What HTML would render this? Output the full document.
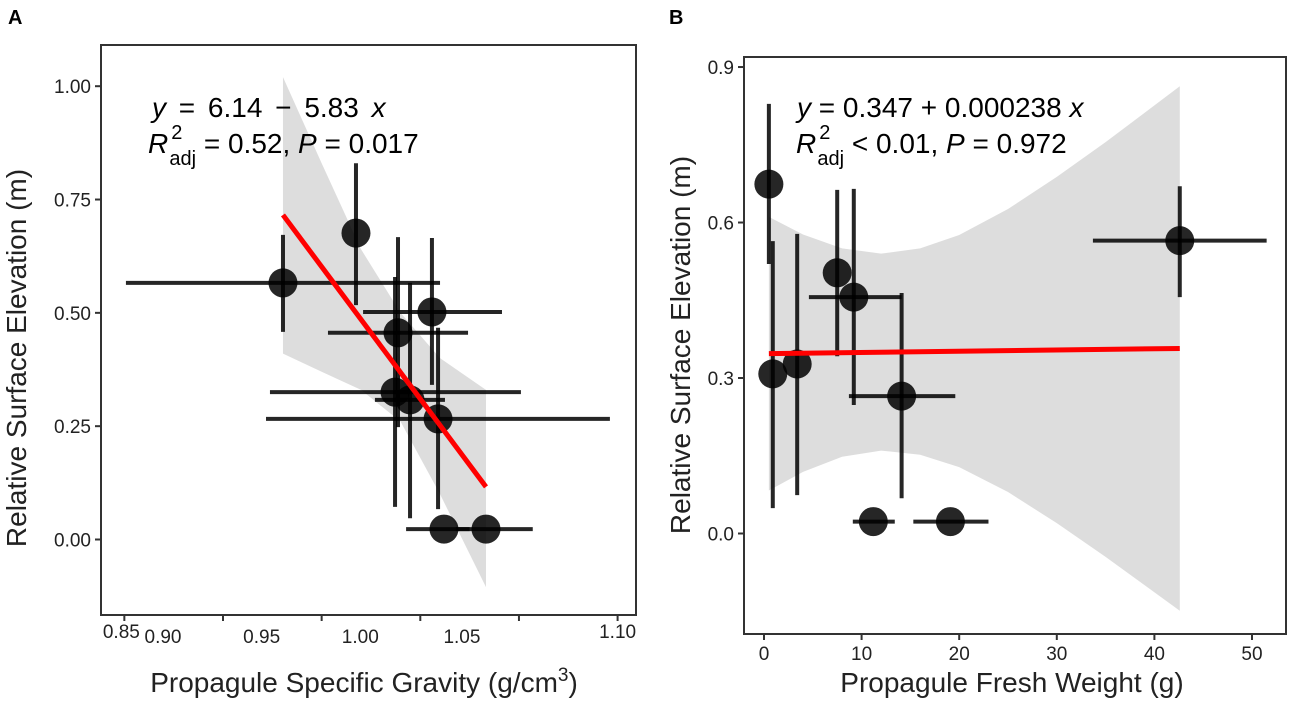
<!DOCTYPE html>
<html><head><meta charset="utf-8"><style>
body{margin:0;background:#fff;}
svg{display:block;font-family:"Liberation Sans",Arial,sans-serif;}
</style></head><body>
<svg id="fig" width="1299" height="708" viewBox="0 0 1299 708">
<text x="8" y="24" font-size="20" font-weight="bold">A</text>
<text x="669" y="24" font-size="20" font-weight="bold">B</text>
<g id="pa"></g>
<g id="pb"></g>
<text x="152" y="117" font-size="28" word-spacing="5"><tspan font-style="italic">y</tspan> = 6.14 − 5.83 <tspan font-style="italic">x</tspan></text>
<text x="148" y="153" font-size="28"><tspan font-style="italic">R</tspan><tspan dy="-14" font-size="20" dx="3">2</tspan><tspan dy="26" dx="-13" font-size="20">adj</tspan><tspan dy="-12"> = 0.52, </tspan><tspan font-style="italic">P</tspan> = 0.017</text>
<text x="797" y="117" font-size="28"><tspan font-style="italic">y</tspan> = 0.347 + 0.000238 <tspan font-style="italic">x</tspan></text>
<text x="796" y="153" font-size="28"><tspan font-style="italic">R</tspan><tspan dy="-14" font-size="20" dx="3">2</tspan><tspan dy="26" dx="-13" font-size="20">adj</tspan><tspan dy="-12"> &lt; 0.01, </tspan><tspan font-style="italic">P</tspan> = 0.972</text>
<text transform="translate(26,358) rotate(-90)" font-size="28" text-anchor="middle" fill="#222">Relative Surface Elevation (m)</text>
<text transform="translate(690,345) rotate(-90)" font-size="28" text-anchor="middle" fill="#222">Relative Surface Elevation (m)</text>
<text x="364" y="692" font-size="28" text-anchor="middle" fill="#222">Propagule Specific Gravity (g/cm<tspan dy="-11" font-size="19">3</tspan><tspan dy="11">)</tspan></text>
<text x="1012" y="692" font-size="28" text-anchor="middle" fill="#222">Propagule Fresh Weight (g)</text>
</svg>
<script>
// ---------- Panel A data ----------
const aX = [0.9304, 0.9674, 1.0059, 0.9887, 0.9872, 0.9948, 1.009, 1.012, 1.0333];
const aY = [0.566, 0.676, 0.502, 0.456, 0.325, 0.308, 0.266, 0.023, 0.023];
const aXlo = [0.8508, 0.9674, 0.971, 0.9532, 0.9238, 0.977, 0.9218, 0.9928, 1.018];
const aXhi = [1.010, 0.9674, 1.0414, 1.0242, 1.051, 1.0125, 1.0961, 1.025, 1.057];
const aYlo = [0.458, 0.517, 0.341, 0.248, 0.072, 0.047, 0.067, 0.023, 0.023];
const aYhi = [0.672, 0.830, 0.665, 0.667, 0.579, 0.566, 0.467, 0.023, 0.023];
const aFitX = [0.9304, 1.0333];
const aFitY = [0.716, 0.116];
const aBandX = [0.9304, 0.95, 0.97, 0.99, 1.01, 1.0333];
const aBandHi = [1.02, 0.83, 0.64, 0.50, 0.40, 0.33];
const aBandLo = [0.41, 0.37, 0.33, 0.26, 0.10, -0.105];
const aXTicks = [0.85, 0.90, 0.95, 1.00, 1.05, 1.10];
const aXTickLabels = ["0.85", "0.90", "0.95", "1.00", "1.05", "1.10"];
const aYTicks = [0, 0.25, 0.5, 0.75, 1.0];
const aYTickLabels = ["0.00", "0.25", "0.50", "0.75", "1.00"];
// ---------- Panel B data ----------
const bX = [0.5, 0.9, 3.4, 7.5, 9.2, 14.1, 11.2, 19.1, 42.6];
const bY = [0.674, 0.308, 0.327, 0.503, 0.456, 0.265, 0.023, 0.023, 0.565];
const bXlo = [0.5, 0.9, 3.4, 7.5, 4.6, 8.7, 9.1, 15.3, 33.7];
const bXhi = [0.5, 0.9, 3.4, 7.5, 14.1, 19.6, 13.4, 23.0, 51.5];
const bYlo = [0.52, 0.049, 0.074, 0.342, 0.248, 0.068, 0.023, 0.023, 0.456];
const bYhi = [0.829, 0.564, 0.578, 0.663, 0.665, 0.464, 0.023, 0.023, 0.670];
const bFitX = [0.5, 42.6];
const bFitY = [0.347, 0.357];
const bBandX = [0.5, 4, 8, 12, 16, 20, 25, 30, 35, 42.6];
const bBandHi = [0.611, 0.577, 0.550, 0.540, 0.550, 0.576, 0.626, 0.688, 0.755, 0.863];
const bBandLo = [0.083, 0.119, 0.148, 0.160, 0.152, 0.128, 0.080, 0.020, -0.045, -0.149];
const bXTicks = [0, 10, 20, 30, 40, 50];
const bXTickLabels = ["0", "10", "20", "30", "40", "50"];
const bYTicks = [0, 0.3, 0.6, 0.9];
const bYTickLabels = ["0.0", "0.3", "0.6", "0.9"];

const NS = "http://www.w3.org/2000/svg";
function mk(parent, tag, attrs, text){
  const e = document.createElementNS(NS, tag);
  for (const k in attrs) e.setAttribute(k, attrs[k]);
  if (text !== undefined) e.textContent = text;
  parent.appendChild(e);
  return e;
}

function panel(g, cfg){
  const sx = v => cfg.x0 + (v - cfg.xv0) * cfg.kx;
  const sy = v => cfg.y0 - v * cfg.ky;
  let d = "";
  cfg.bandX.forEach((x,i)=>{ d += (i?"L":"M") + sx(x) + "," + sy(cfg.bandHi[i]); });
  for (let i = cfg.bandX.length-1; i >= 0; i--) d += "L" + sx(cfg.bandX[i]) + "," + sy(cfg.bandLo[i]);
  const band = mk(g, "path", {d: d + "Z", fill: "#d9d9d9", "fill-opacity": "0.9"});
  
  
  cfg.X.forEach((x,i)=>{
    if (cfg.Xhi[i] > cfg.Xlo[i]) {
      const l = mk(g, "line", {x1: sx(cfg.Xlo[i]), x2: sx(cfg.Xhi[i]), y1: sy(cfg.Y[i]), y2: sy(cfg.Y[i]), stroke: "#000", "stroke-width": 4, "stroke-opacity": 0.85});
      
      
    }
    if (cfg.Yhi[i] > cfg.Ylo[i]) {
      const l = mk(g, "line", {x1: sx(x), x2: sx(x), y1: sy(cfg.Ylo[i]), y2: sy(cfg.Yhi[i]), stroke: "#000", "stroke-width": 4, "stroke-opacity": 0.85});
      
      
    }
  });
  cfg.X.forEach((x,i)=>{
    const c = mk(g, "circle", {cx: sx(x), cy: sy(cfg.Y[i]), r: 14.5, fill: "#000", "fill-opacity": 0.85});
    
    
  });
  const f = mk(g, "line", {x1: sx(cfg.fitX[0]), y1: sy(cfg.fitY[0]), x2: sx(cfg.fitX[1]), y2: sy(cfg.fitY[1]), stroke: "#ff0000", "stroke-width": 5});
  
  
  const fr = mk(g, "rect", {x: cfg.L, y: cfg.T, width: cfg.R - cfg.L, height: cfg.B - cfg.T, fill: "none", stroke: "#333", "stroke-width": 2});
  
  
  cfg.yTicks.forEach((v,i)=>{
    const t = mk(g, "line", {x1: cfg.L - 6, x2: cfg.L, y1: sy(v), y2: sy(v), stroke: "#333", "stroke-width": 2});
    
    
    const tl = mk(g, "text", {x: cfg.L - 10, y: sy(v) + 7, "font-size": 19, "text-anchor": "end", fill: "#222"}, cfg.yLabels[i]);
    
    
  });
  cfg.xTicks.forEach((v,i)=>{
    const t = mk(g, "line", {x1: sx(v), x2: sx(v), y1: cfg.B, y2: cfg.B + 6, stroke: "#333", "stroke-width": 2});
    
    
    const off = cfg.labelOff ? cfg.labelOff[i] : [0, 0];
    const tl = mk(g, "text", {x: sx(v) + off[0], y: cfg.B + 26 + off[1], "font-size": 19, "text-anchor": "middle", fill: "#222"}, cfg.xLabels[i]);
    
    
  });
}

panel(document.getElementById("pa"), {x0: 223, xv0: 0.9, kx: 1973, y0: 539.5, ky: 453.3, L: 101, R: 636, T: 45, B: 615,
  X: aX, Y: aY, Xlo: aXlo, Xhi: aXhi, Ylo: aYlo, Yhi: aYhi, fitX: aFitX, fitY: aFitY,
  bandX: aBandX, bandHi: aBandHi, bandLo: aBandLo, xTicks: aXTicks, xLabels: aXTickLabels,
  yTicks: aYTicks, yLabels: aYTickLabels,
  labelOff: [[-3,-3],[-60,2],[-60,2],[-60,2],[-57,2],[0,-3]]});
panel(document.getElementById("pb"), {x0: 764, xv0: 0, kx: 9.76, y0: 533.5, ky: 518.3, L: 744, R: 1286, T: 57, B: 634,
  X: bX, Y: bY, Xlo: bXlo, Xhi: bXhi, Ylo: bYlo, Yhi: bYhi, fitX: bFitX, fitY: bFitY,
  bandX: bBandX, bandHi: bBandHi, bandLo: bBandLo, xTicks: bXTicks, xLabels: bXTickLabels,
  yTicks: bYTicks, yLabels: bYTickLabels});
</script>
</body></html>
